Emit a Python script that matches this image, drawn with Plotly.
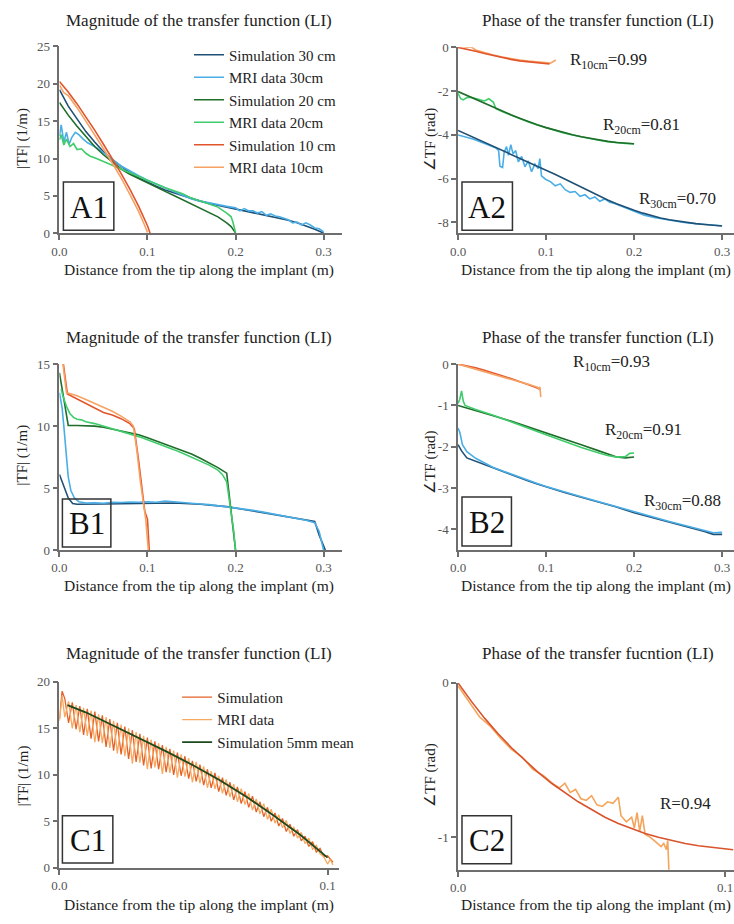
import plotly.graph_objects as go

W, H = 734, 924
SERIF = "Liberation Serif, Times New Roman, serif"

# ---------------- A1: magnitude, LI ----------------
a1_sim30_x = [0.00, 0.01, 0.02, 0.03, 0.04, 0.05, 0.06, 0.07, 0.08, 0.09, 0.10, 0.11, 0.12, 0.13, 0.14, 0.15,
              0.16, 0.17, 0.18, 0.19, 0.20, 0.21, 0.22, 0.23, 0.24, 0.25, 0.26, 0.27, 0.28, 0.29, 0.30]
a1_sim30_y = [19.2, 17.0, 15.3, 13.6, 12.2, 10.9, 9.8, 8.9, 8.1, 7.4, 6.8, 6.3, 5.8, 5.4, 5.0, 4.6,
              4.3, 4.0, 3.75, 3.5, 3.3, 3.1, 2.85, 2.6, 2.35, 2.05, 1.75, 1.4, 1.0, 0.55, 0.05]
a1_mri30_x = [0.000, 0.002, 0.005, 0.008, 0.011, 0.014, 0.018, 0.022, 0.027, 0.032, 0.040, 0.050, 0.060, 0.070,
              0.080, 0.090, 0.100, 0.110, 0.120, 0.130, 0.140, 0.150, 0.160, 0.170, 0.180, 0.190, 0.200, 0.205,
              0.210, 0.215, 0.220, 0.225, 0.230, 0.235, 0.240, 0.245, 0.250, 0.255, 0.260, 0.265, 0.270, 0.275,
              0.280, 0.285, 0.290, 0.295, 0.300]
a1_mri30_y = [13.0, 14.5, 12.2, 13.5, 11.9, 12.8, 13.5, 13.2, 12.6, 12.1, 11.6, 10.8, 9.9, 9.0,
              8.3, 7.7, 7.1, 6.6, 6.1, 5.6, 5.1, 4.6, 4.3, 4.1, 3.8, 3.6, 3.4, 3.0,
              3.3, 3.0, 3.0, 2.7, 2.9, 2.4, 2.6, 2.3, 2.2, 2.0, 1.8, 1.4, 1.5, 1.1,
              1.4, 1.1, 0.7, 0.6, 0.2]
a1_sim20_x = [0.00, 0.01, 0.02, 0.03, 0.04, 0.05, 0.06, 0.07, 0.08, 0.09, 0.10, 0.11, 0.12, 0.13, 0.14, 0.15,
              0.16, 0.17, 0.18, 0.19, 0.195, 0.20]
a1_sim20_y = [17.5, 15.8, 14.3, 12.9, 11.6, 10.5, 9.5, 8.6, 7.9, 7.3, 6.7, 6.15, 5.6, 5.05, 4.5, 3.95,
              3.4, 2.8, 2.2, 1.4, 0.9, 0.05]
a1_mri20_x = [0.000, 0.002, 0.005, 0.008, 0.012, 0.016, 0.020, 0.025, 0.030, 0.035, 0.040, 0.050, 0.060, 0.070,
              0.080, 0.090, 0.100, 0.110, 0.120, 0.130, 0.140, 0.150, 0.160, 0.170, 0.180, 0.190, 0.195, 0.197,
              0.200]
a1_mri20_y = [12.5, 13.2, 11.8, 12.6, 11.6, 12.0, 11.2, 11.3, 10.7, 10.3, 10.1, 9.6, 9.1, 8.5,
              8.0, 7.5, 7.0, 6.6, 6.1, 5.7, 5.3, 4.7, 4.3, 4.0, 3.5, 2.7, 2.2, 1.5,
              0.1]
a1_sim10_x = [0.00, 0.01, 0.02, 0.03, 0.04, 0.05, 0.06, 0.07, 0.08, 0.09, 0.10, 0.103]
a1_sim10_y = [20.3, 18.9, 17.3, 15.6, 13.8, 11.9, 10.0, 8.0, 5.9, 3.6, 1.0, 0.0]
a1_mri10_x = [0.000, 0.005, 0.010, 0.020, 0.030, 0.040, 0.050, 0.060, 0.070, 0.080, 0.090, 0.097, 0.100]
a1_mri10_y = [19.8, 18.8, 18.4, 16.8, 15.0, 13.2, 11.3, 9.4, 7.4, 5.2, 2.9, 1.0, 0.1]

# ---------------- A2: phase, LI ----------------
a2_sim10_x = [0.00, 0.01, 0.02, 0.03, 0.04, 0.05, 0.06, 0.07, 0.08, 0.09, 0.10, 0.104]
a2_sim10_y = [0.0, -0.08, -0.18, -0.28, -0.38, -0.47, -0.55, -0.62, -0.67, -0.71, -0.74, -0.76]
a2_mri10_x = [0.000, 0.005, 0.010, 0.015, 0.020, 0.030, 0.040, 0.050, 0.060, 0.070, 0.080, 0.090, 0.100,
              0.105, 0.111]
a2_mri10_y = [-0.02, 0.05, 0.0, 0.02, -0.12, -0.25, -0.35, -0.44, -0.52, -0.58, -0.63, -0.66, -0.68,
              -0.72, -0.58]
a2_sim20_x = [0.00, 0.01, 0.02, 0.03, 0.04, 0.05, 0.06, 0.07, 0.08, 0.09, 0.10, 0.11, 0.12, 0.13, 0.14, 0.15,
              0.16, 0.17, 0.18, 0.19, 0.20]
a2_sim20_y = [-2.02, -2.2, -2.38, -2.56, -2.74, -2.92, -3.08, -3.24, -3.4, -3.54, -3.67, -3.79, -3.9, -4.0,
              -4.09, -4.17, -4.24, -4.3, -4.35, -4.39, -4.41]
a2_mri20_x = [0.000, 0.003, 0.006, 0.010, 0.015, 0.020, 0.025, 0.030, 0.035, 0.040, 0.043, 0.05, 0.06, 0.07,
              0.08, 0.09, 0.10, 0.11, 0.12, 0.13, 0.14, 0.15, 0.16, 0.17, 0.18, 0.19, 0.20]
a2_mri20_y = [-2.1, -2.35, -2.4, -2.3, -2.28, -2.35, -2.4, -2.45, -2.35, -2.5, -2.8, -2.93, -3.1, -3.26,
              -3.41, -3.55, -3.68, -3.8, -3.91, -4.01, -4.1, -4.18, -4.25, -4.31, -4.36, -4.39, -4.42]
a2_sim30_x = [0.00, 0.01, 0.02, 0.03, 0.04, 0.05, 0.06, 0.07, 0.08, 0.09, 0.10, 0.11, 0.12, 0.13, 0.14, 0.15,
              0.16, 0.17, 0.18, 0.19, 0.20, 0.21, 0.22, 0.23, 0.24, 0.25, 0.26, 0.27, 0.28, 0.29, 0.30]
a2_sim30_y = [-3.8, -3.98, -4.16, -4.34, -4.52, -4.7, -4.88, -5.06, -5.24, -5.42, -5.6, -5.8, -6.0, -6.2,
              -6.4, -6.6, -6.8, -6.98, -7.15, -7.31, -7.45, -7.58, -7.7, -7.8, -7.88, -7.95, -8.01, -8.06,
              -8.1, -8.14, -8.17]
a2_mri30_x = [0.0, 0.0169, 0.0318, 0.0431, 0.0461, 0.0476, 0.0506, 0.0524, 0.0551, 0.0573, 0.0599, 0.0625,
              0.0655, 0.0685, 0.0723, 0.076, 0.0798, 0.0835, 0.0873, 0.091, 0.0929, 0.0948, 0.0993, 0.1049,
              0.1105, 0.1161, 0.1217, 0.1273, 0.133, 0.1386, 0.1442, 0.1498, 0.1554, 0.161, 0.1667, 0.1723,
              0.1779, 0.1854, 0.1929, 0.2022, 0.2116, 0.2228, 0.2341, 0.2453, 0.2566, 0.2678, 0.279, 0.2903,
              0.2996]
a2_mri30_y = [-4.01, -4.19, -4.42, -4.6, -4.72, -5.43, -5.49, -4.79, -4.54, -4.94, -4.45, -4.87,
              -4.72, -5.24, -4.99, -5.46, -5.19, -5.69, -5.34, -5.54, -5.09, -5.88, -6.03, -6.14,
              -6.33, -6.24, -6.51, -6.63, -6.59, -6.81, -6.74, -6.93, -6.84, -7.04, -6.93, -7.08,
              -7.14, -7.26, -7.41, -7.56, -7.68, -7.78, -7.86, -7.95, -8.01, -8.05, -8.1, -8.13,
              -8.16]

# ---------------- B1: magnitude ----------------
b1_sim30_x = [0.0, 0.005, 0.01, 0.015, 0.02, 0.05, 0.10, 0.13, 0.16, 0.19, 0.22, 0.25, 0.27, 0.29, 0.295, 0.302]
b1_sim30_y = [6.1, 5.2, 4.2, 3.75, 3.7, 3.72, 3.8, 3.8, 3.7, 3.5, 3.15, 2.8, 2.55, 2.3, 1.2, 0.0]
b1_mri30_x = [0.0, 0.003, 0.005, 0.0075, 0.01, 0.013, 0.017, 0.022, 0.03, 0.04, 0.05, 0.06, 0.07, 0.08, 0.09,
              0.10, 0.11, 0.12, 0.13, 0.14, 0.15, 0.16, 0.17, 0.18, 0.19, 0.20, 0.21, 0.22, 0.23, 0.24, 0.25,
              0.26, 0.27, 0.28, 0.29, 0.295, 0.298, 0.30]
b1_mri30_y = [12.7, 11.5, 10.0, 7.8, 5.9, 4.8, 4.2, 3.9, 3.8, 3.82, 3.78, 3.85, 3.83, 3.88, 3.85,
              3.9, 3.86, 3.95, 3.88, 3.85, 3.8, 3.72, 3.66, 3.58, 3.5, 3.42, 3.32, 3.2, 3.08, 2.95, 2.82,
              2.7, 2.56, 2.4, 2.2, 1.5, 0.6, 0.0]
b1_sim20_x = [0.0, 0.005, 0.01, 0.02, 0.03, 0.04, 0.05, 0.06, 0.07, 0.08, 0.09, 0.10, 0.11, 0.12, 0.13, 0.14,
              0.15, 0.16, 0.17, 0.18, 0.19, 0.195, 0.20]
b1_sim20_y = [14.3, 12.2, 10.05, 10.05, 10.05, 10.0, 9.9, 9.75, 9.6, 9.45, 9.3, 9.05, 8.8, 8.55, 8.3, 8.05,
              7.75, 7.4, 7.05, 6.65, 6.2, 3.2, 0.0]
b1_mri20_x = [0.002, 0.004, 0.008, 0.012, 0.016, 0.02, 0.025, 0.03, 0.04, 0.05, 0.06, 0.07, 0.08, 0.09, 0.10,
              0.11, 0.12, 0.13, 0.14, 0.15, 0.16, 0.17, 0.18, 0.185, 0.19, 0.195, 0.198, 0.20]
b1_mri20_y = [13.0, 12.4, 11.6, 11.0, 10.7, 10.55, 10.5, 10.35, 10.2, 10.0, 9.8, 9.6, 9.4, 9.15, 8.9,
              8.65, 8.4, 8.1, 7.8, 7.5, 7.2, 6.85, 6.45, 6.1, 5.5, 3.2, 1.5, 0.0]
b1_sim10_x = [0.002, 0.0045, 0.009, 0.02, 0.03, 0.04, 0.05, 0.06, 0.07, 0.08, 0.085, 0.09, 0.095, 0.097, 0.10,
              0.102]
b1_sim10_y = [17.5, 15.0, 12.6, 12.2, 11.8, 11.5, 11.1, 10.9, 10.6, 10.2, 9.8, 7.2, 4.3, 3.1, 2.5, 0.0]
b1_mri10_x = [0.001, 0.004, 0.008, 0.02, 0.03, 0.04, 0.05, 0.06, 0.07, 0.08, 0.084, 0.088, 0.092, 0.096, 0.098,
              0.10, 0.101]
b1_mri10_y = [17.5, 15.0, 12.7, 12.45, 12.15, 11.85, 11.55, 11.2, 10.8, 10.35, 10.0, 8.0, 5.5, 3.5, 2.5,
              0.8, 0.0]

# ---------------- B2: phase ----------------
b2_sim10_x = [0.00, 0.01, 0.02, 0.03, 0.04, 0.05, 0.06, 0.07, 0.08, 0.09, 0.094]
b2_sim10_y = [0.0, -0.04, -0.09, -0.15, -0.21, -0.28, -0.35, -0.42, -0.5, -0.58, -0.62]
b2_mri10_x = [0.00, 0.01, 0.02, 0.03, 0.04, 0.05, 0.06, 0.07, 0.08, 0.09, 0.092, 0.093, 0.094]
b2_mri10_y = [0.0, -0.06, -0.12, -0.18, -0.24, -0.3, -0.36, -0.42, -0.49, -0.56, -0.6, -0.55, -0.8]
b2_sim20_x = [0.00, 0.02, 0.04, 0.06, 0.08, 0.10, 0.12, 0.14, 0.16, 0.18, 0.19, 0.20]
b2_sim20_y = [-1.0, -1.12, -1.25, -1.38, -1.52, -1.66, -1.8, -1.95, -2.1, -2.25, -2.27, -2.25]
b2_mri20_x = [0.0, 0.002, 0.004, 0.006, 0.008, 0.02, 0.04, 0.06, 0.08, 0.10, 0.12, 0.14, 0.16, 0.17, 0.18,
              0.19, 0.195, 0.20]
b2_mri20_y = [-0.95, -0.85, -0.65, -0.9, -1.0, -1.1, -1.24, -1.39, -1.55, -1.71, -1.87, -2.02, -2.15, -2.21,
              -2.25, -2.24, -2.16, -2.15]
b2_sim30_x = [0.0, 0.004, 0.01, 0.02, 0.03, 0.04, 0.05, 0.06, 0.07, 0.08, 0.09, 0.10, 0.12, 0.14, 0.16, 0.18,
              0.20, 0.22, 0.24, 0.26, 0.28, 0.29, 0.30]
b2_sim30_y = [-1.95, -2.1, -2.27, -2.35, -2.44, -2.52, -2.6, -2.68, -2.76, -2.83, -2.9, -2.97, -3.1, -3.22,
              -3.34, -3.46, -3.6, -3.71, -3.82, -3.93, -4.05, -4.12, -4.12]
b2_mri30_x = [0.0, 0.002, 0.005, 0.01, 0.02, 0.03, 0.04, 0.05, 0.06, 0.07, 0.08, 0.09, 0.10, 0.12, 0.14, 0.16,
              0.18, 0.20, 0.22, 0.24, 0.26, 0.28, 0.29, 0.30]
b2_mri30_y = [-1.55, -1.65, -1.95, -2.12, -2.28, -2.4, -2.5, -2.58, -2.66, -2.74, -2.82, -2.89, -2.96, -3.09,
              -3.21, -3.33, -3.45, -3.58, -3.7, -3.81, -3.92, -4.03, -4.08, -4.07]

# ---------------- C1: magnitude, single implant ----------------
c1_x = [0.0000, 0.0010,
        0.0020, 0.0034, 0.0048, 0.0062, 0.0076, 0.0090, 0.0104, 0.0118, 0.0132, 0.0146,
        0.0160, 0.0174, 0.0188, 0.0202, 0.0216, 0.0230, 0.0244, 0.0258, 0.0272, 0.0286,
        0.0300, 0.0314, 0.0328, 0.0342, 0.0356, 0.0370, 0.0384, 0.0398, 0.0412, 0.0426,
        0.0440, 0.0454, 0.0468, 0.0482, 0.0496, 0.0510, 0.0524, 0.0538, 0.0552, 0.0566,
        0.0580, 0.0594, 0.0608, 0.0622, 0.0636, 0.0650, 0.0664, 0.0678, 0.0692, 0.0706,
        0.0720, 0.0734, 0.0748, 0.0762, 0.0776, 0.0790, 0.0804, 0.0818, 0.0832, 0.0846,
        0.0860, 0.0874, 0.0888, 0.0902, 0.0916, 0.0930, 0.0944, 0.0958, 0.0972, 0.0986,
        0.1000, 0.1010, 0.1020]
c1_sim = [16.0, 19.0,
          18.2, 15.6, 17.8, 14.9, 17.4, 14.3, 17.1, 13.9, 16.8, 13.6,
          16.4, 13.0, 16.0, 12.6, 15.6, 12.2, 15.2, 11.7, 14.8, 11.4,
          14.4, 11.0, 14.0, 10.7, 13.6, 10.6, 13.2, 10.3, 12.8, 10.0,
          12.4, 9.9, 12.0, 9.6, 11.5, 9.3, 11.1, 8.9, 10.6, 8.6,
          10.2, 8.2, 9.7, 7.8, 9.2, 7.3, 8.7, 6.9, 8.2, 6.5,
          7.7, 6.0, 7.1, 5.5, 6.5, 5.0, 5.9, 4.5, 5.3, 3.9,
          4.7, 3.4, 4.1, 2.9, 3.4, 2.3, 2.8, 1.7, 2.1, 1.2,
          1.3, 0.9, 0.6]
c1_mri = [15.8, 18.5,
          16.2, 17.9, 15.0, 17.5, 14.6, 17.2, 14.2, 16.9, 13.5, 16.5,
          13.4, 16.2, 12.9, 15.8, 12.3, 15.4, 12.0, 15.0, 11.2, 14.6,
          11.3, 14.2, 10.6, 13.8, 10.8, 13.4, 10.1, 13.0, 10.2, 12.6,
          9.7, 12.2, 9.8, 11.8, 9.2, 11.4, 9.1, 10.9, 8.6, 10.4,
          8.5, 9.9, 8.0, 9.5, 7.6, 9.0, 7.1, 8.5, 6.8, 8.0,
          6.2, 7.4, 5.8, 6.9, 5.2, 6.3, 4.8, 5.7, 4.3, 5.1,
          3.7, 4.4, 3.2, 3.8, 2.6, 3.2, 2.0, 2.4, 1.5, 1.2,
          0.4, 0.9, 0.3]
c1_mean_x = [0.003, 0.01, 0.02, 0.03, 0.04, 0.05, 0.06, 0.07, 0.08, 0.09, 0.10]
c1_mean_y = [17.5, 16.7, 15.3, 13.9, 12.5, 11.0, 9.4, 7.6, 5.6, 3.5, 1.1]

# ---------------- C2: phase, single implant ----------------
c2_sim_x = [0.000, 0.005, 0.010, 0.015, 0.020, 0.025, 0.030, 0.035, 0.040, 0.045, 0.050, 0.055, 0.060, 0.065,
            0.070, 0.075, 0.080, 0.085, 0.090, 0.095, 0.100, 0.103]
c2_sim_y = [0.0, -0.12, -0.23, -0.33, -0.42, -0.5, -0.58, -0.65, -0.71, -0.77, -0.82, -0.87, -0.91, -0.945,
            -0.975, -1.0, -1.02, -1.04, -1.055, -1.065, -1.075, -1.08]
c2_mri_x = [0.0, 0.004, 0.008, 0.012, 0.016, 0.02, 0.024, 0.028, 0.032, 0.036, 0.038, 0.04, 0.042, 0.044,
            0.046, 0.048, 0.05, 0.052, 0.054, 0.056, 0.058, 0.06, 0.061, 0.063, 0.065, 0.066, 0.067, 0.068,
            0.069, 0.07, 0.072, 0.074, 0.076, 0.077, 0.078, 0.0785, 0.079]
c2_mri_y = [-0.02, -0.12, -0.22, -0.28, -0.36, -0.43, -0.48, -0.56, -0.6, -0.66, -0.68, -0.65, -0.71, -0.69,
            -0.75, -0.76, -0.73, -0.79, -0.8, -0.77, -0.78, -0.74, -0.86, -0.9, -0.87, -0.94, -0.84, -0.96,
            -0.86, -0.98, -1.0, -1.03, -1.06, -1.04, -1.08, -1.02, -1.25]

# ---------------- text ----------------
mag_title = "Magnitude of the transfer function (LI)"
phase_title = "Phase of the transfer function (LI)"
phase_title_c = "Phase of the transfer fucntion (LI)"
x_title = "Distance from the tip along the implant (m)"
mag_ytitle = "|TF| (1/m)"
phase_ytitle = "\u2220TF (rad)"

C_SIM30 = "#1f5076"
C_MRI30 = "#4aaee6"
C_SIM20 = "#1f6d2a"
C_MRI20 = "#3fcc6a"
C_SIM10 = "#e2552b"
C_MRI10 = "#f6a264"
C_MEAN = "#1d4a1d"

AXIS_COLOR = "#6e6e6e"
TICK_FONT = dict(family=SERIF, size=13, color="#555555")


def dom_x(left, right):
    return [left / W, right / W]


def dom_y(top, bottom):
    return [1 - bottom / H, 1 - top / H]


def fmt_x(v):
    return f"{v:.1f}"


def fmt_y(v):
    return f"{v:g}"


# panel geometry in pixels: (left, right), (top, bottom), ranges, ticks
panels = [
    ("x", "y", (52, 338), (40, 230), [0, 0.3213], [0, 25], [0, 0.1, 0.2, 0.3], [0, 5, 10, 15, 20, 25]),
    ("x2", "y2", (455, 734), (41, 230), [0, 0.3135], [-8.5, 0], [0, 0.1, 0.2, 0.3], [0, -2, -4, -6, -8]),
    ("x3", "y3", (52, 338), (363, 552), [0, 0.3213], [0, 15], [0, 0.1, 0.2, 0.3], [0, 5, 10, 15]),
    ("x4", "y4", (455, 734), (363, 552), [0, 0.3135], [-4.5, 0], [0, 0.1, 0.2, 0.3], [0, -1, -2, -3, -4]),
    ("x5", "y5", (52, 335), (686, 875), [0, 0.1044], [0, 20], [0, 0.1], [0, 5, 10, 15, 20]),
    ("x6", "y6", (455, 734), (687, 877), [0, 0.1033], [-1.21, 0], [0, 0.1], [0, -1]),
]

fig = go.Figure()


def add_line(xs, ys, color, xa, ya, name=None, legend=None, width=1.6):
    fig.add_trace(go.Scatter(
        x=xs, y=ys, mode="lines", line=dict(color=color, width=width),
        xaxis=xa, yaxis=ya, name=name, showlegend=name is not None,
        legend=legend if legend else "legend", hoverinfo="skip"))


# A1
add_line(a1_sim30_x, a1_sim30_y, C_SIM30, "x", "y", "Simulation 30 cm")
add_line(a1_mri30_x, a1_mri30_y, C_MRI30, "x", "y", "MRI data 30cm")
add_line(a1_sim20_x, a1_sim20_y, C_SIM20, "x", "y", "Simulation 20 cm")
add_line(a1_mri20_x, a1_mri20_y, C_MRI20, "x", "y", "MRI data 20cm")
add_line(a1_sim10_x, a1_sim10_y, C_SIM10, "x", "y", "Simulation 10 cm")
add_line(a1_mri10_x, a1_mri10_y, C_MRI10, "x", "y", "MRI data 10cm")
# A2
add_line(a2_mri30_x, a2_mri30_y, C_MRI30, "x2", "y2")
add_line(a2_sim30_x, a2_sim30_y, C_SIM30, "x2", "y2")
add_line(a2_mri20_x, a2_mri20_y, C_MRI20, "x2", "y2")
add_line(a2_sim20_x, a2_sim20_y, C_SIM20, "x2", "y2")
add_line(a2_mri10_x, a2_mri10_y, C_MRI10, "x2", "y2")
add_line(a2_sim10_x, a2_sim10_y, C_SIM10, "x2", "y2")
# B1 (measured curves drawn over the simulated ones)
add_line(b1_sim30_x, b1_sim30_y, C_SIM30, "x3", "y3")
add_line(b1_mri30_x, b1_mri30_y, C_MRI30, "x3", "y3")
add_line(b1_sim20_x, b1_sim20_y, C_SIM20, "x3", "y3")
add_line(b1_mri20_x, b1_mri20_y, C_MRI20, "x3", "y3")
add_line(b1_sim10_x, b1_sim10_y, C_SIM10, "x3", "y3")
add_line(b1_mri10_x, b1_mri10_y, C_MRI10, "x3", "y3")
# B2
add_line(b2_sim30_x, b2_sim30_y, C_SIM30, "x4", "y4")
add_line(b2_mri30_x, b2_mri30_y, C_MRI30, "x4", "y4")
add_line(b2_sim20_x, b2_sim20_y, C_SIM20, "x4", "y4")
add_line(b2_mri20_x, b2_mri20_y, C_MRI20, "x4", "y4")
add_line(b2_sim10_x, b2_sim10_y, C_SIM10, "x4", "y4")
add_line(b2_mri10_x, b2_mri10_y, C_MRI10, "x4", "y4")
# C1
add_line(c1_x, c1_sim, "#e4622a", "x5", "y5", "Simulation", "legend2", 1.3)
add_line(c1_x, c1_mri, "#f7a95f", "x5", "y5", "MRI data", "legend2", 1.3)
add_line(c1_mean_x, c1_mean_y, C_MEAN, "x5", "y5", "Simulation 5mm mean", "legend2", 1.8)
# C2
add_line(c2_mri_x, c2_mri_y, "#f5a45c", "x6", "y6")
add_line(c2_sim_x, c2_sim_y, "#d9532b", "x6", "y6")

legend_font = dict(family=SERIF, size=15, color="#222222")
layout = dict(
    width=W, height=H,
    margin=dict(l=0, r=0, t=0, b=0),
    paper_bgcolor="white", plot_bgcolor="rgba(0,0,0,0)",
    hovermode=False,
    font=dict(family=SERIF, color="#222222"),
    legend=dict(x=183 / W, y=1 - 32 / H, xanchor="left", yanchor="top", font=legend_font,
                bgcolor="rgba(0,0,0,0)", tracegroupgap=0, itemwidth=30),
    legend2=dict(x=171 / W, y=1 - 685 / H, xanchor="left", yanchor="top", font=legend_font,
                 bgcolor="rgba(0,0,0,0)", tracegroupgap=0, itemwidth=30),
)

for xa, ya, (l, r), (t, b), xr, yr, xt, yt in panels:
    xkey = "xaxis" + xa[1:]
    ykey = "yaxis" + ya[1:]
    layout[xkey] = dict(
        domain=dom_x(l, r), range=xr, anchor=ya, showline=True, linecolor=AXIS_COLOR, linewidth=1.5,
        ticks="outside", ticklen=5, tickwidth=1.5, tickcolor=AXIS_COLOR, showgrid=False, zeroline=False,
        tickvals=xt, ticktext=[fmt_x(v) for v in xt], tickfont=TICK_FONT, fixedrange=True)
    layout[ykey] = dict(
        domain=dom_y(t, b), range=yr, anchor=xa, showline=True, linecolor=AXIS_COLOR, linewidth=1.5,
        ticks="outside", ticklen=5, tickwidth=1.5, tickcolor=AXIS_COLOR, showgrid=False, zeroline=False,
        tickvals=yt, ticktext=[fmt_y(v) for v in yt], tickfont=TICK_FONT, fixedrange=True)

fig.update_layout(**layout)


def note(text, px, py, size, angle=0, color="#222222"):
    fig.add_annotation(text=text, x=px / W, y=1 - py / H, xref="paper", yref="paper",
                       xanchor="center", yanchor="middle", showarrow=False, textangle=angle,
                       font=dict(family=SERIF, size=size, color=color))


# subplot titles
note(mag_title, 193, 14, 17)
note(phase_title, 597, 14, 17)
note(mag_title, 193, 336, 17)
note(phase_title, 597, 336, 17)
note(mag_title, 193, 657, 17)
note(phase_title_c, 597, 657, 17)

# x-axis titles
for cx, cy in [(193, 267), (594, 267), (193, 589), (594, 589), (193, 913), (594, 913)]:
    note(x_title, cx, cy, 15.5)

# y-axis titles
note(mag_ytitle, 15, 133, 15, -90)
note(mag_ytitle, 15, 455, 15, -90)
note(mag_ytitle, 15, 781, 15, -90)
note(phase_ytitle, 427, 135, 15, -90)
note(phase_ytitle, 427, 463, 15, -90)
note(phase_ytitle, 427, 781, 15, -90)

# correlation labels
note("R<sub>10cm</sub>=0.99", 607, 55, 17)
note("R<sub>20cm</sub>=0.81", 640, 121, 17)
note("R<sub>30cm</sub>=0.70", 677, 196, 17)
note("R<sub>10cm</sub>=0.93", 610, 362, 17)
note("R<sub>20cm</sub>=0.91", 643, 431, 17)
note("R<sub>30cm</sub>=0.88", 682, 503, 17)
note("R=0.94", 685, 810, 17)

# panel label boxes
boxes = [("A1", 56, 107, 178, 227), ("A2", 459, 510, 178, 227),
         ("B1", 55, 104, 500, 549), ("B2", 459, 509, 498, 548),
         ("C1", 55, 106, 822, 870), ("C2", 459, 509, 822, 871)]
for label, x0, x1, y0, y1 in boxes:
    fig.add_shape(type="rect", xref="paper", yref="paper",
                  x0=x0 / W, x1=x1 / W, y0=1 - y1 / H, y1=1 - y0 / H,
                  line=dict(color="#333333", width=1.5), layer="above")
    note(label, (x0 + x1) / 2, (y0 + y1) / 2 + 1, 31, color="#111111")

fig.write_html("out.html")
